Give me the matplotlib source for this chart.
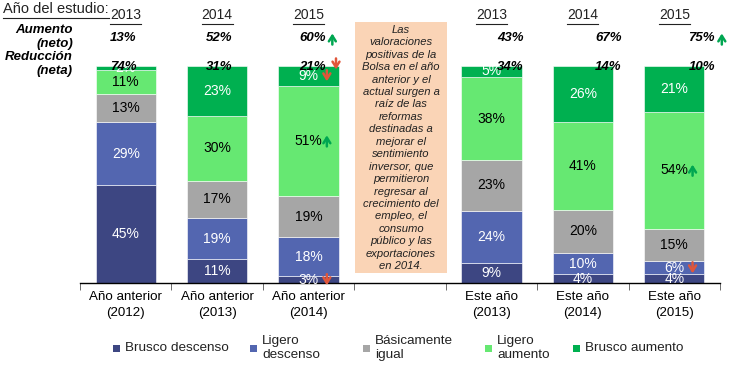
import matplotlib
matplotlib.use('Agg')
import matplotlib.pyplot as plt
from matplotlib.patches import Rectangle
from matplotlib.lines import Line2D
from matplotlib.transforms import blended_transform_factory, offset_copy
import numpy as np

plt.rcParams['font.family'] = ['Liberation Sans', 'DejaVu Sans']

# ---------------- data ----------------
categories = ['Año anterior\n(2012)', 'Año anterior\n(2013)', 'Año anterior\n(2014)',
              'Este año\n(2013)', 'Este año\n(2014)', 'Este año\n(2015)']
series_names = ['Brusco descenso', 'Ligero\ndescenso', 'Básicamente\nigual',
                'Ligero\naumento', 'Brusco aumento']
brusco_descenso = [45, 11, 3, 9, 4, 4]
ligero_descenso = [29, 19, 18, 24, 10, 6]
basicamente_igual = [13, 17, 19, 23, 20, 15]
ligero_aumento = [11, 30, 51, 38, 41, 54]
brusco_aumento = [2, 23, 9, 5, 26, 21]
study_years = ['2013', '2014', '2015', '2013', '2014', '2015']
aumento_neto = [13, 52, 60, 43, 67, 75]
reduccion_neta = [74, 31, 21, 34, 14, 10]
note_text = ("Las\nvaloraciones\npositivas de la\nBolsa en el año\nanterior y el\nactual surgen a\n"
             "raíz de las\nreformas\ndestinadas a\nmejorar el\nsentimiento\ninversor, que\n"
             "permitieron\nregresar al\ncrecimiento del\nempleo, el\nconsumo\npúblico y las\n"
             "exportaciones\nen 2014.")

# ---------------- style ----------------
colors = ['#3D4682', '#5366B0', '#A6A6A6', '#66E872', '#00B050']
text_colors = ['white', 'white', 'black', 'black', 'white']
positions = [0, 1, 2, 4, 5, 6]
label_dx = [-0.03, 0.02, 0.04, 0.21, 0.28, 0.30]
up_c = '#00A651'
down_c = '#E0563A'

W, H = 737, 372
fig = plt.figure(figsize=(W / 100, H / 100), dpi=100)
ax = fig.add_axes([80 / W, 1 - 283 / H, 640 / W, 217 / H])


def arrow(x, y, transform, direction):
    c = up_c if direction == 'up' else down_c
    s = 1 if direction == 'up' else -1
    tip = offset_copy(transform, fig=fig, x=0, y=s * 4.0, units='points')
    tail = offset_copy(transform, fig=fig, x=0, y=-s * 4.0, units='points')
    ax.annotate('', xy=(x, y), xycoords=tip, xytext=(x, y), textcoords=tail,
                arrowprops=dict(arrowstyle='->,head_length=0.4,head_width=0.25',
                                lw=1.8, color=c, shrinkA=0, shrinkB=0,
                                mutation_scale=10),
                annotation_clip=False)


series = [brusco_descenso, ligero_descenso, basicamente_igual, ligero_aumento, brusco_aumento]
data = np.array(series, dtype=float)
totals = data.sum(axis=0)
norm = data / totals * 100
bottom = np.zeros(len(positions))
for i, vals in enumerate(norm):
    ax.bar(positions, vals, width=0.66, bottom=bottom, color=colors[i],
           edgecolor='white', linewidth=0.4)
    for j, (p, v, raw) in enumerate(zip(positions, vals, data[i])):
        ax.text(p, bottom[j] + v / 2, f'{int(raw)}%', ha='center', va='center',
                fontsize=10, color=text_colors[i])
    bottom += vals

# arrows inside bars (position index, series index, direction)
arrow_marks = [(2, 0, 'down'), (2, 3, 'up'), (2, 4, 'down'), (5, 1, 'down'), (5, 3, 'up')]
cum = np.vstack([np.zeros(len(positions)), np.cumsum(norm, axis=0)])
for j, s, d in arrow_marks:
    yc = (cum[s][j] + cum[s + 1][j]) / 2
    arrow(positions[j] + 0.2, yc, ax.transData, d)

ax.set_xlim(-0.5, 6.5)
ax.set_ylim(0, 100)
for s in ['top', 'right', 'left']:
    ax.spines[s].set_visible(False)
ax.spines['bottom'].set_linewidth(1.0)
ax.set_yticks([])
ax.set_xticks(positions)
ax.set_xticklabels(categories, fontsize=9.6, linespacing=1.4)
ax.tick_params(axis='x', which='major', length=0, pad=6)
ax.set_xticks(np.arange(-0.5, 7.0, 1.0), minor=True)
ax.tick_params(axis='x', which='minor', length=5, width=0.6, color='#555555')

# header texts
tr = blended_transform_factory(ax.transData, fig.transFigure)
fig.canvas.draw()
renderer = fig.canvas.get_renderer()


def underline(txt, lw=0.8, gap=1.5):
    bb = txt.get_window_extent(renderer)
    y = (bb.y0 - gap) / H
    fig.add_artist(Line2D([bb.x0 / W, bb.x1 / W], [y, y], color='#222222', lw=lw))


t = fig.text(3 / W, 1 - 9 / H, 'Año del estudio:', fontsize=10.5, color='#222222',
             ha='left', va='center')
underline(t)
for p, yr in zip(positions, study_years):
    t = ax.text(p, 1 - 15 / H, yr, transform=tr, ha='center', va='center', fontsize=10,
                color='#222222')
    underline(t)

fig.text(73 / W, 1 - 37 / H, 'Aumento\n(neto)', ha='right', va='center', fontsize=9.5,
         fontweight='bold', fontstyle='italic', linespacing=1.15)
fig.text(73 / W, 1 - 64 / H, 'Reducción\n(neta)', ha='right', va='center', fontsize=9.5,
         fontweight='bold', fontstyle='italic', linespacing=1.15)

for k, (p, dx) in enumerate(zip(positions, label_dx)):
    ax.text(p + dx, 1 - 38 / H, f'{aumento_neto[k]}%', transform=tr, ha='center',
            va='center', fontsize=9.5, fontweight='bold', fontstyle='italic')
    ax.text(p + dx, 1 - 67 / H, f'{reduccion_neta[k]}%', transform=tr, ha='center',
            va='center', fontsize=9.5, fontweight='bold', fontstyle='italic')

# header arrows
arrow(2 + 0.04 + 0.22, 1 - 39 / H, tr, 'up')
arrow(2 + 0.04 + 0.26, 1 - 64 / H, tr, 'down')
arrow(6 + 0.30 + 0.22, 1 - 39 / H, tr, 'up')

# note box
fig.patches.append(Rectangle((355 / W, 1 - 273 / H), 92 / W, 251 / H,
                             transform=fig.transFigure, facecolor='#FAD4B6',
                             edgecolor='none', zorder=0))
fig.text(401 / W, 1 - 148 / H, note_text, ha='center', va='center', fontsize=8.1,
         fontstyle='italic', linespacing=1.305, color='#222222')

# legend
legend_x = [113, 250, 363, 485, 573]
for x, c, name in zip(legend_x, colors, series_names):
    fig.patches.append(Rectangle((x / W, 1 - 352 / H), 7 / W, 7 / H,
                                 transform=fig.transFigure, facecolor=c, edgecolor='none'))
    fig.text((x + 12) / W, 1 - 348 / H, name, ha='left', va='center', fontsize=9.7,
             linespacing=1.2, color='#222222')

fig.savefig('out.png', dpi=100)
